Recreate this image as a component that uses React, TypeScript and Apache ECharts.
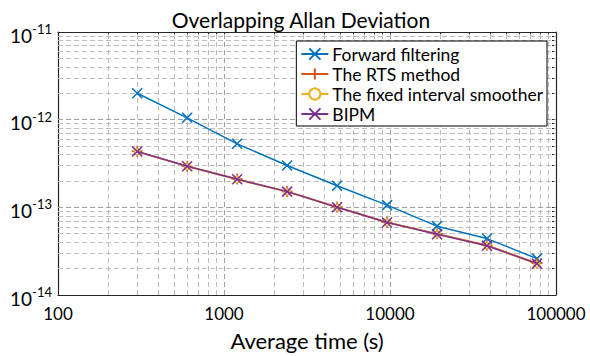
import React, { useEffect, useRef } from "react";
import * as echarts from "echarts";

const averageTimes = [300, 600, 1200, 2400, 4800, 9600, 19200, 38400, 76800];
const forwardFiltering = [2.0e-12, 1.05e-12, 5.3e-13, 3.0e-13, 1.76e-13, 1.06e-13, 6.1e-14, 4.4e-14, 2.6e-14];
const rtsMethod = [4.35e-13, 2.95e-13, 2.1e-13, 1.52e-13, 1.01e-13, 6.75e-14, 5.0e-14, 3.7e-14, 2.3e-14];
const fixedInterval = [4.3e-13, 2.93e-13, 2.08e-13, 1.5e-13, 1.0e-13, 6.7e-14, 4.95e-14, 3.65e-14, 2.25e-14];
const bipm = [4.33e-13, 2.94e-13, 2.09e-13, 1.51e-13, 1.0e-13, 6.7e-14, 4.93e-14, 3.65e-14, 2.28e-14];

const xTickLabels = ["100", "1000", "10000", "100000"];
const seriesNames = ["Forward filtering", "The RTS method", "The fixed interval smoother", "BIPM"];
const colors = ["#0072BD", "#D95319", "#EDB120", "#7E2F8E"];

const X_MIN = 100;
const X_MAX = 100000;
const Y_MIN = 1e-14;
const Y_MAX = 1e-11;

const FONT = "Lato";

function gridValues(min: number, max: number) {
  const minor: number[] = [];
  const major: number[] = [];
  const all: number[] = [];
  for (let d = min; d < max * 0.999; d *= 10) {
    if (d > min * 1.001) major.push(d);
    all.push(d);
    for (let k = 2; k <= 9; k++) {
      minor.push(d * k);
      all.push(d * k);
    }
  }
  all.push(max);
  return { minor, major, all };
}

const CROSS = "path://M0,0L10,10M10,0L0,10";
const PLUS = "path://M5,0L5,10M0,5L10,5";

export default function App() {
  const ref = useRef<HTMLDivElement>(null);
  useEffect(() => {
    if (!ref.current) return;
    const chart = echarts.init(ref.current, null, { renderer: "svg" });
    const xg = gridValues(X_MIN, X_MAX);
    const yg = gridValues(Y_MIN, Y_MAX);
    const mkData = (vals: number[], axis: "xAxis" | "yAxis") => vals.map((v) => ({ [axis]: v }));

    const symbols = [CROSS, PLUS, "circle", CROSS];
    const sizes = [10, 11, 6, 10];
    const datasets = [forwardFiltering, rtsMethod, fixedInterval, bipm];

    const lineSeries = seriesNames.map((name, i) => ({
      name,
      type: "line",
      xAxisIndex: 0,
      yAxisIndex: 0,
      data: averageTimes.map((t, j) => [t, datasets[i][j]]),
      symbol: symbols[i],
      symbolSize: sizes[i],
      showSymbol: true,
      z: 10 + i,
      lineStyle: { color: colors[i], width: 1.5 },
      itemStyle: {
        color: i === 2 ? "#ffffff" : colors[i],
        borderColor: colors[i],
        borderWidth: 1.5,
      },
    }));

    const majorStyle = { color: "#a0a0a0", type: [5, 3], width: 1 };
    const gridSeries = {
      type: "line",
      data: [],
      xAxisIndex: 0,
      yAxisIndex: 0,
      silent: true,
      z: 1,
      markLine: {
        silent: true,
        precision: 20,
        symbol: ["none", "none"],
        label: { show: false },
        animation: false,
        lineStyle: { color: "#bdbdbd", type: [5, 3], width: 1 },
        data: [
          ...mkData(xg.minor, "xAxis"),
          ...mkData(yg.minor, "yAxis"),
          ...mkData(xg.major, "xAxis").map((d) => ({ ...d, lineStyle: majorStyle })),
          ...mkData(yg.major, "yAxis").map((d) => ({ ...d, lineStyle: majorStyle })),
        ],
      },
    };

    const supFormatter = (v: number) => {
      const e = Math.round(Math.log10(v));
      return `{b|10}{s|${e}}`;
    };

    const tickStyle = { color: "#262626" };
    const axisLine = { show: true, lineStyle: { color: "#262626", width: 1.2 } };
    const xTick = { show: true, inside: true, length: 4, lineStyle: tickStyle, customValues: xg.all };
    const yTick = { show: true, inside: true, length: 4, lineStyle: tickStyle, customValues: yg.all };

    chart.setOption({
      animation: false,
      backgroundColor: "#ffffff",
      title: {
        text: "Overlapping Allan Deviation",
        left: 296,
        textAlign: "center",
        top: 4,
        textStyle: { fontFamily: FONT, fontSize: 21, fontWeight: "normal", color: "#000" },
      },
      grid: { left: 58, right: 34, top: 32, bottom: 57, containLabel: false },
      legend: {
        data: seriesNames,
        orient: "vertical",
        right: 43,
        top: 41,
        backgroundColor: "#ffffff",
        borderColor: "#000",
        borderWidth: 1,
        borderRadius: 0,
        padding: [4, 4, 3, 4],
        itemGap: 2,
        itemWidth: 27,
        itemHeight: 14,
        textStyle: { fontFamily: FONT, fontSize: 17.5, color: "#000", padding: [0, 0, 0, -1] },
        z: 20,
      },
      xAxis: [
        {
          type: "log",
          logBase: 10,
          min: X_MIN,
          max: X_MAX,
          position: "bottom",
          name: "Average time (s)",
          nameLocation: "middle",
          nameGap: 34,
          nameTextStyle: { fontFamily: FONT, fontSize: 22, color: "#000" },
          axisLine,
          axisTick: xTick,
          axisLabel: {
            fontFamily: FONT,
            fontSize: 17,
            color: "#000",
            margin: 10,
            formatter: (v: number) => xTickLabels[Math.round(Math.log10(v)) - 2] ?? String(v),
          },
          splitLine: { show: false },
        },
        {
          type: "log",
          logBase: 10,
          min: X_MIN,
          max: X_MAX,
          position: "top",
          axisLine,
          axisTick: xTick,
          axisLabel: { show: false },
          splitLine: { show: false },
        },
      ],
      yAxis: [
        {
          type: "log",
          logBase: 10,
          min: Y_MIN,
          max: Y_MAX,
          position: "left",
          axisLine,
          axisTick: yTick,
          axisLabel: {
            fontFamily: FONT,
            color: "#000",
            margin: 6,
            formatter: supFormatter,
            rich: {
              b: { fontFamily: FONT, fontSize: 19, color: "#000", padding: [6, 0, 0, 0] },
              s: { fontFamily: FONT, fontSize: 13, color: "#000", padding: [0, 0, 6, 0] },
            },
          },
          splitLine: { show: false },
        },
        {
          type: "log",
          logBase: 10,
          min: Y_MIN,
          max: Y_MAX,
          position: "right",
          axisLine,
          axisTick: yTick,
          axisLabel: { show: false },
          splitLine: { show: false },
        },
      ],
      series: [gridSeries, ...lineSeries],
    });
    return () => chart.dispose();
  }, []);
  return <div ref={ref} style={{ width: 590, height: 356, position: "absolute", left: 0, top: 0 }} />;
}
